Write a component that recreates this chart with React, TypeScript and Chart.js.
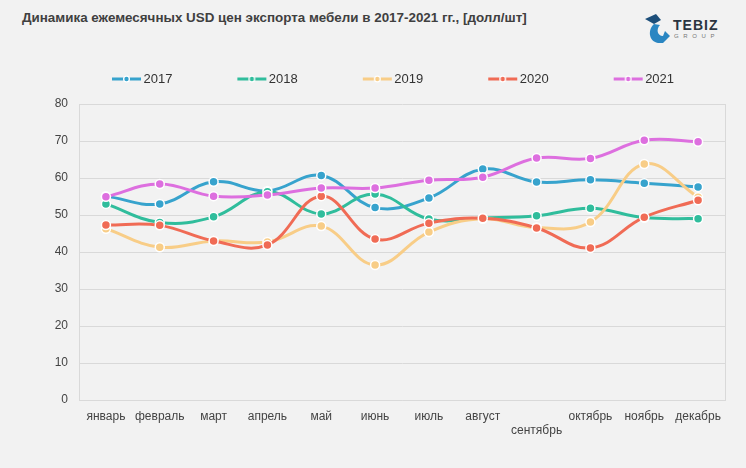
import React, { useEffect, useRef } from "react";
import { Chart, registerables } from "chart.js";

Chart.register(...registerables);

const months = ["январь", "февраль", "март", "апрель", "май", "июнь", "июль", "август", "сентябрь", "октябрь", "ноябрь", "декабрь"];
const seriesNames = ["2017", "2018", "2019", "2020", "2021"];
const v2017 = [55.1, 53, 59, 56.5, 60.7, 52, 54.6, 62.4, 58.9, 59.5, 58.6, 57.6];
const v2018 = [53, 48, 49.5, 56.3, 50.3, 55.7, 48.9, 49.2, 49.8, 51.8, 49.3, 49];
const v2019 = [46.3, 41.3, 43, 42.7, 47, 36.5, 45.4, 49, 46.6, 48.1, 63.8, 54.8];
const v2020 = [47.3, 47.2, 43, 41.9, 55.1, 43.5, 47.8, 49.1, 46.5, 41.1, 49.4, 54];
const v2021 = [54.9, 58.4, 55.1, 55.4, 57.3, 57.3, 59.4, 60.2, 65.4, 65.3, 70.2, 69.8];
const yTicks = { min: 0, max: 80, step: 10 };

const colors = ["#37a3cd", "#30bd9c", "#f8cd87", "#f06b55", "#dd6fdf"];
const seriesValues = [v2017, v2018, v2019, v2020, v2021];

// legend marker: transparent left part, line + dot in the rightmost 30px
function legendMarker(color: string): HTMLCanvasElement {
  const c = document.createElement("canvas");
  c.width = 80;
  c.height = 10;
  const g = c.getContext("2d")!;
  const x0 = 50;
  g.strokeStyle = color;
  g.lineWidth = 3;
  g.beginPath();
  g.moveTo(x0, 5);
  g.lineTo(x0 + 29, 5);
  g.stroke();
  g.beginPath();
  g.arc(x0 + 14.5, 5, 3.5, 0, Math.PI * 2);
  g.fillStyle = "#ffffff";
  g.fill();
  g.beginPath();
  g.arc(x0 + 14.5, 5, 2.2, 0, Math.PI * 2);
  g.fillStyle = color;
  g.fill();
  return c;
}

export default function App() {
  const ref = useRef<HTMLCanvasElement>(null);

  useEffect(() => {
    const canvas = ref.current;
    if (!canvas) return;
    const markers = colors.map(legendMarker);
    const legendPatch = {
      id: "legendPatch",
      beforeInit(chart: any) {
        const l = chart.legend;
        if (!l) return;
        const f = l.fit;
        l.fit = function () {
          f.call(this);
          this.height = 51.5;
        };
      },
    };
    const chart = new Chart(canvas, {
      type: "line",
      data: {
        labels: months,
        datasets: seriesNames.map((name, i) => ({
          label: name,
          data: seriesValues[i],
          borderColor: colors[i],
          backgroundColor: colors[i],
          pointBackgroundColor: colors[i],
          pointBorderColor: "#ffffff",
          pointBorderWidth: 1.5,
          pointRadius: 4.5,
          pointHoverRadius: 4.5,
          borderWidth: 3,
          tension: 0.4,
          fill: false,
          order: seriesNames.length - i,
          pointStyle: "circle",
        })),
      },
      options: {
        animation: false,
        responsive: false,
        maintainAspectRatio: false,
        layout: { padding: { top: 52.5, left: 16, right: 21, bottom: 0 } },
        plugins: {
          tooltip: { enabled: false },
          title: { display: false },
          legend: {
            position: "top",
            align: "center",
            labels: {
              usePointStyle: true,
              pointStyleWidth: 70,
              padding: 20,
              color: "#333333",
              font: { family: "'Liberation Sans', Arial, sans-serif", size: 13 },
              sort: (a: any, b: any) => a.datasetIndex - b.datasetIndex,
              generateLabels: (chart: any) =>
                chart.data.datasets.map((ds: any, i: number) => ({
                  text: ds.label,
                  datasetIndex: i,
                  pointStyle: markers[i],
                  fillStyle: colors[i],
                  strokeStyle: colors[i],
                  lineWidth: 0,
                  hidden: false,
                  fontColor: "#333333",
                })),
            },
          },
        },
        scales: {
          x: {
            offset: true,
            grid: {
              display: true,
              drawTicks: false,
              offset: true,
              color: (c: any) => (c.type === "scale" ? "#d9d9d9" : "rgba(0,0,0,0)"),
              lineWidth: 1,
            },
            border: { display: true, color: "#d9d9d9" },
            ticks: {
              padding: 9,
              color: "#444444",
              maxRotation: 0,
              autoSkip: false,
              font: { family: "'Liberation Sans', Arial, sans-serif", size: 12 },
              callback: (_v: any, i: number) => (i === 8 ? ["", months[i]] : months[i]),
            },
            afterFit: (s: any) => {
              s.height = 68;
            },
          },
          y: {
            min: yTicks.min,
            max: yTicks.max,
            grid: { color: "#d9d9d9", drawTicks: false },
            border: { display: true, color: "#d9d9d9" },
            ticks: {
              stepSize: yTicks.step,
              padding: 11,
              color: "#444444",
              font: { family: "'Liberation Sans', Arial, sans-serif", size: 12 },
            },
            afterFit: (s: any) => {
              s.width = 63;
            },
          },
        },
      },
      plugins: [legendPatch],
    });
    return () => chart.destroy();
  }, []);

  return (
    <div
      style={{
        position: "absolute",
        left: 0,
        top: 0,
        width: 746,
        height: 468,
        background: "#f2f2f2",
        overflow: "hidden",
      }}
    >
      <div
        style={{
          position: "absolute",
          left: 22,
          top: 10,
          fontFamily: "'Liberation Sans', Arial, sans-serif",
          fontWeight: "bold",
          fontSize: 13.4,
          color: "#404040",
          whiteSpace: "nowrap",
        }}
      >
        Динамика ежемесячных USD цен экспорта мебели в 2017-2021 гг., [долл/шт]
      </div>
      <div style={{ position: "absolute", left: 644, top: 12, width: 90, height: 34 }}>
        <svg width="28" height="32" viewBox="0 0 28 32" style={{ position: "absolute", left: 0, top: 0 }}>
          <path d="M1 7 L12 2 L17 8 L10 12 Z" fill="#1d4f7a" />
          <path d="M10 12 C4 17 4 29 14 31 L19 31 L26 24 L21 19 L19 24 C13 24 12 17 16 13 Z" fill="#2a86c2" />
        </svg>
        <div
          style={{
            position: "absolute",
            left: 29,
            top: 5,
            fontFamily: "'Liberation Sans', Arial, sans-serif",
            fontWeight: "bold",
            fontSize: 14,
            letterSpacing: 1,
            color: "#2a3440",
          }}
        >
          TEBIZ
        </div>
        <div
          style={{
            position: "absolute",
            left: 30,
            top: 21,
            fontFamily: "'Liberation Sans', Arial, sans-serif",
            fontSize: 6,
            color: "#777",
            letterSpacing: 4.6,
          }}
        >
          GROUP
        </div>
      </div>
      <canvas ref={ref} width={746} height={468} style={{ position: "absolute", left: 0, top: 0 }} />
    </div>
  );
}
